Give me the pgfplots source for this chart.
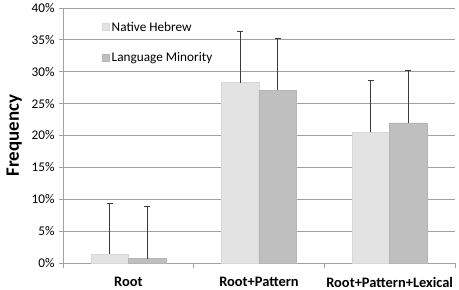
\documentclass[border=0pt]{standalone}
\usepackage{pgfplots}
\pgfplotsset{compat=1.18}
\usepackage{fontspec}
\setmainfont{Carlito}
\definecolor{lightbar}{RGB}{227,227,227}
\definecolor{darkbar}{RGB}{191,191,191}
\definecolor{gridc}{RGB}{160,160,160}
\definecolor{errc}{RGB}{60,60,60}
\begin{document}
\begin{tikzpicture}
\useasboundingbox (-63bp,-27bp) rectangle (396bp,263bp);
\begin{axis}[
  at={(0,0)}, anchor=south west,
  scale only axis, width=392bp, height=255bp,
  xmin=-0.5, xmax=2.5, ymin=0, ymax=40,
  ybar=0pt, bar width=37.5bp,
  xtick={0,1,2},
  xticklabels={Root,Root+Pattern,Root+Pattern+Lexical},
  xticklabel style={font=\fontsize{14.5}{16}\selectfont\bfseries, yshift=-7bp},
  major x tick style={draw=none},
  extra x ticks={-0.5,0.5,1.5,2.5},
  extra x tick labels={},
  extra x tick style={major tick length=5bp, tick align=outside, major x tick style={draw=gridc, line width=0.8pt}, grid=none},
  ytick={0,5,...,40},
  yticklabel={\pgfmathprintnumber{\tick}\%},
  /pgf/number format/assume math mode=true,
  yticklabel style={font=\fontsize{13.3}{15}\selectfont, xshift=-1bp},
  ymajorgrids, grid style={gridc, line width=0.8pt},
  major y tick style={draw=gridc, line width=0.8pt},
  major tick length=4bp, tick align=outside,
  axis x line*=bottom, axis y line*=left,
  axis line style={gridc, line width=0.8pt, -},
  ylabel={Frequency},
  ylabel style={font=\fontsize{19}{21}\selectfont\bfseries, yshift=3bp},
  legend style={at={(rel axis cs:0.092,0.962)}, anchor=north west, draw=none, fill=none,
    font=\fontsize{13.3}{15}\selectfont, row sep=16bp, cells={anchor=west}},
  legend image code/.code={\fill[#1] (0bp,-3.5bp) rectangle (7bp,3.5bp);},
  error bars/y dir=plus, error bars/y explicit,
  error bars/error bar style={errc, line width=1pt},
  error bars/error mark options={errc, line width=1pt, mark size=3bp, rotate=90},
]
\addplot[fill=lightbar, draw=lightbar!95!black, bar shift=-18.75bp, line width=0.5pt] coordinates {
  (0,1.4) +- (0,8.0)
  (1,28.3) +- (0,8.0)
  (2,20.5) +- (0,8.1)
};
\addplot[fill=darkbar, draw=darkbar!95!black, bar shift=18.75bp, line width=0.5pt] coordinates {
  (0,0.7) +- (0,8.1)
  (1,27.1) +- (0,8.1)
  (2,22.0) +- (0,8.2)
};
\legend{Native Hebrew, Language Minority}
\end{axis}
\end{tikzpicture}
\end{document}
